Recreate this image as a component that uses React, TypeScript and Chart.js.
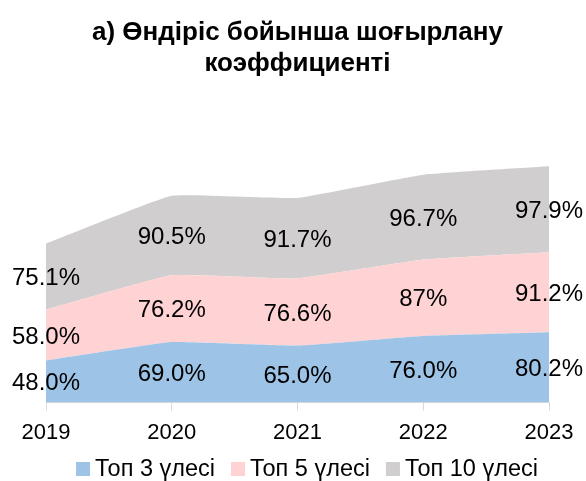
import { useEffect, useRef } from 'react';
import { Chart, registerables } from 'chart.js';

Chart.register(...registerables);

const years = ['2019', '2020', '2021', '2022', '2023'];
const top3 = [48.0, 69.0, 65.0, 76.0, 80.2];
const top5 = [58.0, 76.2, 76.6, 87, 91.2];
const top10 = [75.1, 90.5, 91.7, 96.7, 97.9];
const labels3 = ['48.0%', '69.0%', '65.0%', '76.0%', '80.2%'];
const labels5 = ['58.0%', '76.2%', '76.6%', '87%', '91.2%'];
const labels10 = ['75.1%', '90.5%', '91.7%', '96.7%', '97.9%'];
const seriesNames = ['Топ 3 үлесі', 'Топ 5 үлесі', 'Топ 10 үлесі'];
const titleLines = ['а) Өндіріс бойынша шоғырлану', 'коэффициенті'];

const colors = ['#9DC3E6', '#FFD3D3', '#D0CECE'];
const FONT = "'Liberation Sans', Arial, sans-serif";

export default function App() {
  const ref = useRef<HTMLCanvasElement | null>(null);

  useEffect(() => {
    if (!ref.current) return;
    const allLabels = [labels3, labels5, labels10];

    const valueLabels = {
      id: 'valueLabels',
      afterDatasetsDraw(chart: any) {
        const ctx = chart.ctx;
        const yScale = chart.scales.y;
        ctx.save();
        ctx.font = `24px ${FONT}`;
        ctx.fillStyle = '#000';
        ctx.textAlign = 'center';
        ctx.textBaseline = 'middle';
        chart.data.datasets.forEach((_: any, i: number) => {
          const meta = chart.getDatasetMeta(i);
          meta.data.forEach((pt: any, j: number) => {
            const top = pt.y;
            const bottom = i === 0 ? yScale.getPixelForValue(0) : chart.getDatasetMeta(i - 1).data[j].y;
            ctx.fillText(allLabels[i][j], pt.x, (top + bottom) / 2 + 2);
          });
        });
        ctx.restore();
      },
    };

    const customLegend = {
      id: 'customLegend',
      afterDraw(chart: any) {
        const ctx = chart.ctx;
        ctx.save();
        ctx.font = `23.5px ${FONT}`;
        const box = 14;
        const gap = 5;
        const spacing = 16;
        const widths = seriesNames.map((n) => ctx.measureText(n).width);
        const total = widths.reduce((a, w) => a + box + gap + w, 0) + spacing * (seriesNames.length - 1);
        let x = (chart.width - total) / 2 + 14;
        const cy = 469;
        seriesNames.forEach((n, i) => {
          ctx.fillStyle = colors[i];
          ctx.fillRect(x, cy - box / 2, box, box);
          x += box + gap;
          ctx.fillStyle = '#000';
          ctx.textAlign = 'left';
          ctx.textBaseline = 'middle';
          ctx.fillText(n, x, cy + 1);
          x += widths[i] + spacing;
        });
        ctx.restore();
      },
    };

    const mk = (data: number[], i: number, fill: any) => ({
      label: seriesNames[i],
      data,
      backgroundColor: colors[i],
      borderColor: colors[i],
      borderWidth: 0,
      pointRadius: 0,
      tension: 0.1,
      fill,
    });

    const chart = new Chart(ref.current, {
      type: 'line',
      data: {
        labels: years,
        datasets: [mk(top3, 0, 'origin'), mk(top5, 1, '-1'), mk(top10, 2, '-1')],
      },
      options: {
        responsive: false,
        animation: false,
        layout: { padding: { left: 46, right: 37, top: 0, bottom: 26 } },
        plugins: {
          legend: { display: false },
          tooltip: { enabled: false },
          title: {
            display: true,
            text: titleLines,
            color: '#000',
            font: { family: FONT, size: 26, weight: 'bold', lineHeight: 1.2 },
            padding: { top: 17, bottom: 60 },
          },
        },
        scales: {
          x: {
            offset: false,
            grid: {
              display: true,
              drawOnChartArea: false,
              drawTicks: true,
              tickLength: 8,
              color: '#D9D9D9',
            },
            border: { display: true, color: '#D9D9D9', width: 1 },
            ticks: {
              color: '#000',
              font: { family: FONT, size: 22 },
              padding: 9,
              maxRotation: 0,
            },
          },
          y: {
            display: false,
            stacked: true,
            min: 0,
            max: 300,
          },
        },
      },
      plugins: [valueLabels, customLegend],
    });
    return () => chart.destroy();
  }, []);

  return (
    <div style={{ position: 'fixed', left: 0, top: 0, width: 586, height: 481, background: '#fff' }}>
      <canvas ref={ref} width={586} height={481} />
    </div>
  );
}
